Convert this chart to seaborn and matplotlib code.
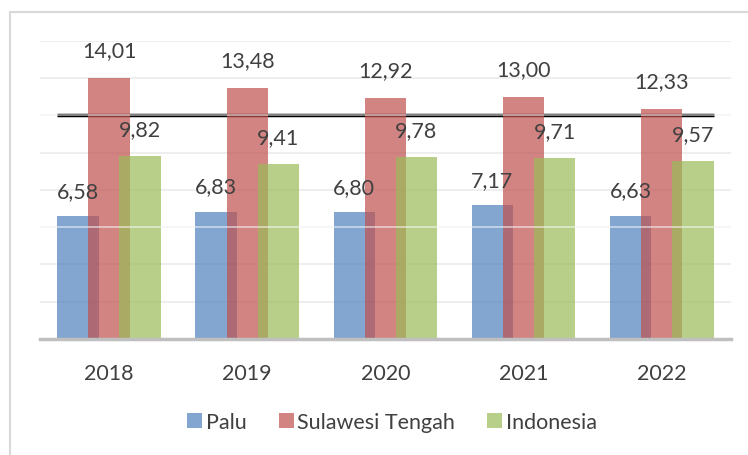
import pandas as pd
import matplotlib.pyplot as plt
import matplotlib.patches as mpatches
import seaborn as sns

# Data
years = ["2018", "2019", "2020", "2021", "2022"]
palu = [6.58, 6.83, 6.80, 7.17, 6.63]
sulteng = [14.01, 13.48, 12.92, 13.00, 12.33]
indonesia = [9.82, 9.41, 9.78, 9.71, 9.57]

series_names = ["Palu", "Sulawesi Tengah", "Indonesia"]
series_values = [palu, sulteng, indonesia]
series_colors = ["#4f81bd", "#c0504d", "#9bbb59"]
label_pad = [11, 13, 12]

sns.set_theme(style="white")
plt.rcParams["font.family"] = ["Lato", "DejaVu Sans"]

fig = plt.figure(figsize=(7.48, 4.56), dpi=100)
ax = fig.add_axes([0.0535, 0.2544, 0.9235, 0.6535])

bar_w = 0.30
step = 0.225

# gridlines
for g in range(2, 17, 2):
    ax.axhline(g, color="#ebebeb", lw=1.2, zorder=0)
ax.hlines(12, -step - bar_w / 2, len(years) - 1 + step + bar_w / 2,
          color="black", lw=2.5, zorder=0.5)

# bars (overlapping, drawn in order)
for i, (name, vals, col) in enumerate(zip(series_names, series_values, series_colors)):
    df = pd.DataFrame({"x": [k + (i - 1) * step for k in range(len(years))],
                       "y": vals})
    sns.barplot(data=df, x="x", y="y", native_scale=True, width=bar_w,
                color=col, alpha=0.7, saturation=1, ax=ax, zorder=1 + i,
                errorbar=None, edgecolor="none", linewidth=0)

# faint lines drawn over bars
for g in [6, 12]:
    ax.axhline(g, color="white", lw=1.2, alpha=0.6, zorder=5)

for i, vals in enumerate(series_values):
    ax.bar_label(ax.containers[i],
                 labels=[f"{v:.2f}".replace(".", ",") for v in vals],
                 padding=label_pad[i], fontsize=15.5, color="#404040")

ax.set_xlim(-0.5, len(years) - 0.5)
ax.set_ylim(0, 16)
ax.set_xticks(range(len(years)))
ax.set_xticklabels(years, fontsize=15.5, color="#404040")
ax.tick_params(axis="x", length=0, pad=17)
ax.set_yticks([])
ax.set_xlabel("")
ax.set_ylabel("")
for s in ["top", "right", "left"]:
    ax.spines[s].set_visible(False)
ax.spines["bottom"].set_color("#bfbfbf")
ax.spines["bottom"].set_linewidth(2.5)
ax.spines["bottom"].set_zorder(6)

handles = [mpatches.Patch(facecolor=c, alpha=0.7, edgecolor="none") for c in series_colors]
fig.legend(handles, series_names, loc="center", bbox_to_anchor=(0.524, 0.072),
           ncol=3, frameon=False, fontsize=15.5, handlelength=0.7, handleheight=0.7,
           handletextpad=0.15, columnspacing=1.5, labelcolor="#404040")

# outer chart frame
fig.patches.append(mpatches.Rectangle((10 / 748, -0.1), 1.0, 1.1 - 13 / 456,
                                      transform=fig.transFigure, fill=False,
                                      edgecolor="#d9d9d9", lw=1.5))

plt.savefig("out.png", dpi=100)
